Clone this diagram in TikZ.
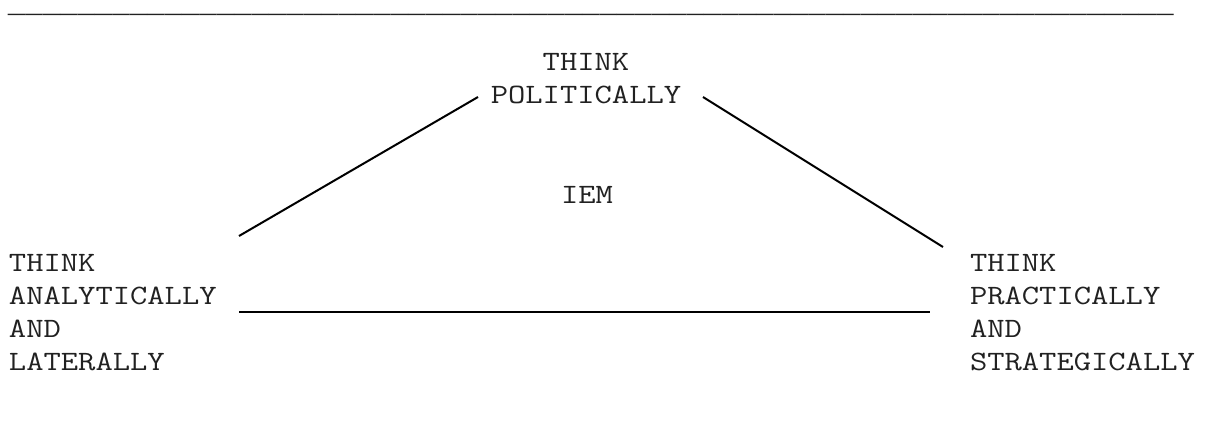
\documentclass[tikz,border=0pt]{standalone}
\usepackage{fontspec}
\setmonofont[FakeStretch=1.2]{Latin Modern Mono}
\newfontfamily\rulefont{Liberation Mono}
\begin{document}
\begin{tikzpicture}[x=1pt,y=-1pt,
  lbl/.style={inner sep=0pt, outer sep=0pt, font=\ttfamily\fontsize{28}{33}\selectfont, text=black!87},
  conn/.style={line width=2pt, black}]
\useasboundingbox (0,0) rectangle (1205,441);
\node[lbl, anchor=base west, font=\rulefont\fontsize{29}{33}\selectfont] (rule) at (8,12.2) {\_\_\_\_\_\_\_\_\_\_\_\_\_\_\_\_\_\_\_\_\_\_\_\_\_\_\_\_\_\_\_\_\_\_\_\_\_\_\_\_\_\_\_\_\_\_\_\_\_\_\_\_\_\_\_\_\_\_\_\_\_\_\_\_\_\_\_};
\node[lbl, anchor=base, align=center] (pol) at (586,103.3) {THINK\\POLITICALLY};
\node[lbl, anchor=base] (iem) at (587,203) {IEM};
\node[lbl, anchor=base west, align=left] (ana) at (9,370) {THINK\\ANALYTICALLY\\AND\\LATERALLY};
\node[lbl, anchor=base west, align=left] (pra) at (970,370) {THINK\\PRACTICALLY\\AND\\STRATEGICALLY};
\coordinate (la) at (239,236);
\coordinate (lb) at (478,97);
\coordinate (ra) at (703,97);
\coordinate (rb) at (943,247);
\coordinate (ba) at (239,312);
\coordinate (bb) at (930,312);
\draw[conn] (la) -- (lb);
\draw[conn] (ra) -- (rb);
\draw[conn] (ba) -- (bb);
\end{tikzpicture}
\end{document}
